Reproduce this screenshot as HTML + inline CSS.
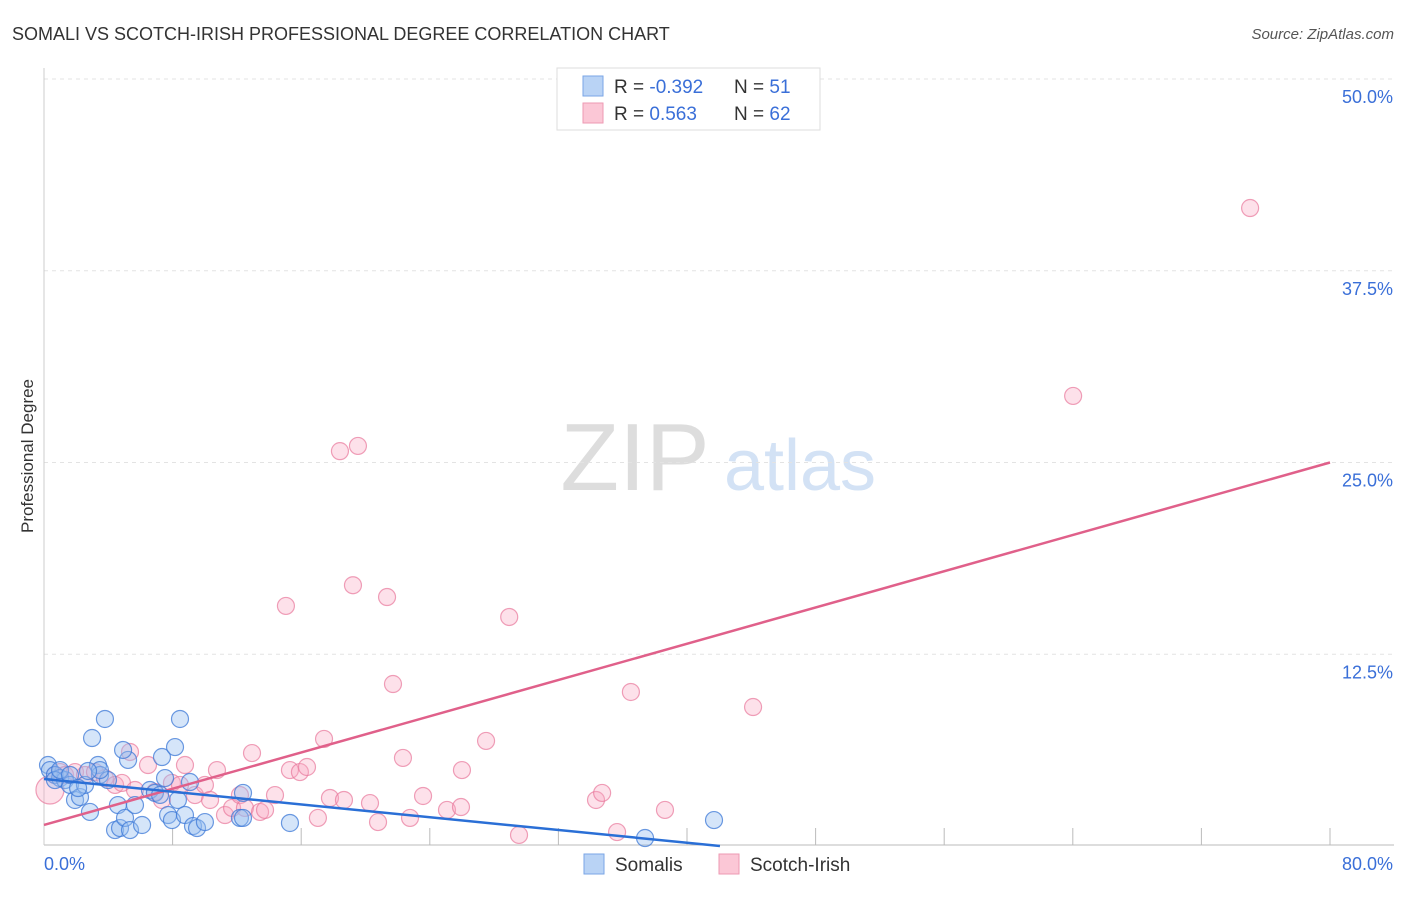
<!DOCTYPE html>
<html><head><meta charset="utf-8">
<style>
body{margin:0;background:#fff;font-family:"Liberation Sans",sans-serif;}
svg text{font-family:"Liberation Sans",sans-serif;}
</style></head>
<body>
<svg id="chart" width="1406" height="892" xmlns="http://www.w3.org/2000/svg">
<text x="12" y="40" font-size="18" fill="#333">SOMALI VS SCOTCH-IRISH PROFESSIONAL DEGREE CORRELATION CHART</text>
<text x="1394" y="39" font-size="15" fill="#555" text-anchor="end" font-style="italic">Source: ZipAtlas.com</text>
<text transform="translate(33,456) rotate(-90)" font-size="17" fill="#333" text-anchor="middle">Professional Degree</text>
<g>
<text x="635" y="490" font-size="96" fill="#ddd" text-anchor="middle" font-family="Liberation Serif,serif">ZIP</text>
<text x="800" y="490" font-size="72" fill="#d3e2f5" text-anchor="middle">atlas</text>
</g>
<g id="grid"></g><g id="axes"></g><g id="pink"></g><g id="blue"></g><g id="lines"></g>
<g>
<rect x="557" y="68" width="263" height="62" fill="#fff" stroke="#ddd"/>
<rect x="583" y="76" width="20" height="20" fill="#b9d3f5" stroke="#7aa6e6"/>
<rect x="583" y="103" width="20" height="20" fill="#fbc7d6" stroke="#ee9ab3"/>
<text x="614" y="93" font-size="19" fill="#333">R = <tspan fill="#3a6fd8">-0.392</tspan></text>
<text x="734" y="93" font-size="19" fill="#333">N = <tspan fill="#3a6fd8"> 51</tspan></text>
<text x="614" y="120" font-size="19" fill="#333">R = <tspan fill="#3a6fd8">  0.563</tspan></text>
<text x="734" y="120" font-size="19" fill="#333">N = <tspan fill="#3a6fd8">62</tspan></text>
</g>
<g>
<rect x="584" y="854" width="20" height="20" fill="#b9d3f5" stroke="#7aa6e6"/>
<text x="615" y="871" font-size="19" fill="#333">Somalis</text>
<rect x="719" y="854" width="20" height="20" fill="#fbc7d6" stroke="#ee9ab3"/>
<text x="750" y="871" font-size="19" fill="#333">Scotch-Irish</text>
</g>
</svg>
<script>
const yTicks=[12.5,25,37.5,50];
const yTickLabels=["12.5%","25.0%","37.5%","50.0%"];
const xTicks=[8,16,24,32,40,48,56,64,72,80];
const blueX=[0.25,0.37,0.68,1.0,1.31,1.62,1.93,2.24,2.55,2.86,2.99,3.36,3.48,3.79,3.98,4.42,4.6,4.73,5.04,5.23,5.35,5.66,6.1,4.92,6.59,6.9,7.22,7.34,7.53,7.72,7.96,8.15,8.33,8.46,8.77,9.08,9.27,9.52,10.01,12.19,12.38,12.38,15.3,37.39,41.68,0.68,3.48,1.0,1.62,2.12,2.74];
const blueY=[5.28,4.95,4.63,4.43,4.3,3.98,3.0,3.19,3.98,2.22,7.04,5.28,4.63,8.28,4.3,1.04,2.67,1.17,1.83,5.61,1.04,2.67,1.37,6.26,3.65,3.46,3.33,5.8,4.43,2.02,1.69,6.45,3.0,8.28,2.02,4.17,1.3,1.17,1.56,1.83,3.46,1.83,1.5,0.52,1.69,4.3,4.95,4.95,4.63,3.78,4.89];
const pinkX=[0.37,0.68,1.0,1.31,1.93,2.55,3.17,3.79,4.42,4.85,5.35,5.66,6.47,6.9,7.34,7.96,8.46,8.77,9.39,10.01,10.33,10.76,11.26,11.7,12.19,12.5,12.94,13.44,13.75,14.37,15.05,15.3,15.92,16.36,17.04,17.42,17.79,18.66,18.41,19.53,19.22,20.28,20.78,21.34,21.71,22.33,22.77,23.58,25.07,25.94,26.0,27.5,28.94,29.55,34.34,34.72,35.65,36.51,38.63,44.11,64.02,75.03];
const pinkY=[3.65,4.63,4.82,4.63,4.82,4.63,4.82,4.43,3.98,4.11,6.13,3.65,5.28,3.52,3.0,4.11,3.98,5.28,3.32,3.98,3.0,4.95,2.02,2.48,3.32,2.48,6.06,2.22,2.35,3.32,15.65,4.95,4.82,5.15,1.83,6.98,3.13,3.0,25.74,26.08,17.0,2.8,1.56,16.23,10.56,5.74,1.83,3.26,2.35,2.54,4.95,6.85,14.93,0.72,3.0,3.46,0.91,10.04,2.35,9.06,29.34,41.59];
const pinkTrend=[1.37,25.0];
const blueTrend=[4.37,0.0,42.05];
const NS="http://www.w3.org/2000/svg";
const X=v=>44+v/80*1286, Y=v=>846-v/50*767;
function mk(p,t,a){const e=document.createElementNS(NS,t);for(const k in a)e.setAttribute(k,a[k]);p.appendChild(e);return e;}
const grid=document.getElementById('grid'),axes=document.getElementById('axes');
yTicks.forEach((t,i)=>{
 const l=mk(grid,'line',{x1:44,x2:1394,y1:Y(t),y2:Y(t),stroke:'#e3e3e3','stroke-dasharray':'4,4'});
 
 
 const tx=mk(axes,'text',{x:1393,y:Y(t)+24,'font-size':18,fill:'#3a6fd8','text-anchor':'end'});tx.textContent=yTickLabels[i];
 
 
});
let a=mk(axes,'line',{x1:44,x2:1394,y1:845,y2:845,stroke:'#bbb'});


a=mk(axes,'line',{x1:44,x2:44,y1:68,y2:845,stroke:'#ccc'});


xTicks.forEach(t=>{const l=mk(axes,'line',{x1:X(t),x2:X(t),y1:828,y2:845,stroke:'#bbb'});
 
 });
let t=mk(axes,'text',{x:44,y:870,'font-size':18,fill:'#3a6fd8'});t.textContent='0.0%';


t=mk(axes,'text',{x:1393,y:870,'font-size':18,fill:'#3a6fd8','text-anchor':'end'});t.textContent='80.0%';


const pg=document.getElementById('pink'),bg=document.getElementById('blue');
pinkX.forEach((x,i)=>{const c=mk(pg,'circle',{cx:X(x),cy:Y(pinkY[i]),r:i==0?14:8.5,fill:'rgba(248,170,195,0.35)',stroke:'rgba(232,120,155,0.7)','stroke-width':1.2});
 
 });
blueX.forEach((x,i)=>{const c=mk(bg,'circle',{cx:X(x),cy:Y(blueY[i]),r:8.5,fill:'rgba(150,190,240,0.4)',stroke:'rgba(60,120,215,0.75)','stroke-width':1.2});
 
 });
const lg=document.getElementById('lines');
let l=mk(lg,'line',{x1:X(0),y1:Y(pinkTrend[0]),x2:X(80),y2:Y(pinkTrend[1]),stroke:'#e0608a','stroke-width':2.5});


l=mk(lg,'line',{x1:X(0),y1:Y(blueTrend[0]),x2:X(blueTrend[2]),y2:Y(blueTrend[1]),stroke:'#2a6fd6','stroke-width':2.5});


</script>
</body></html>
